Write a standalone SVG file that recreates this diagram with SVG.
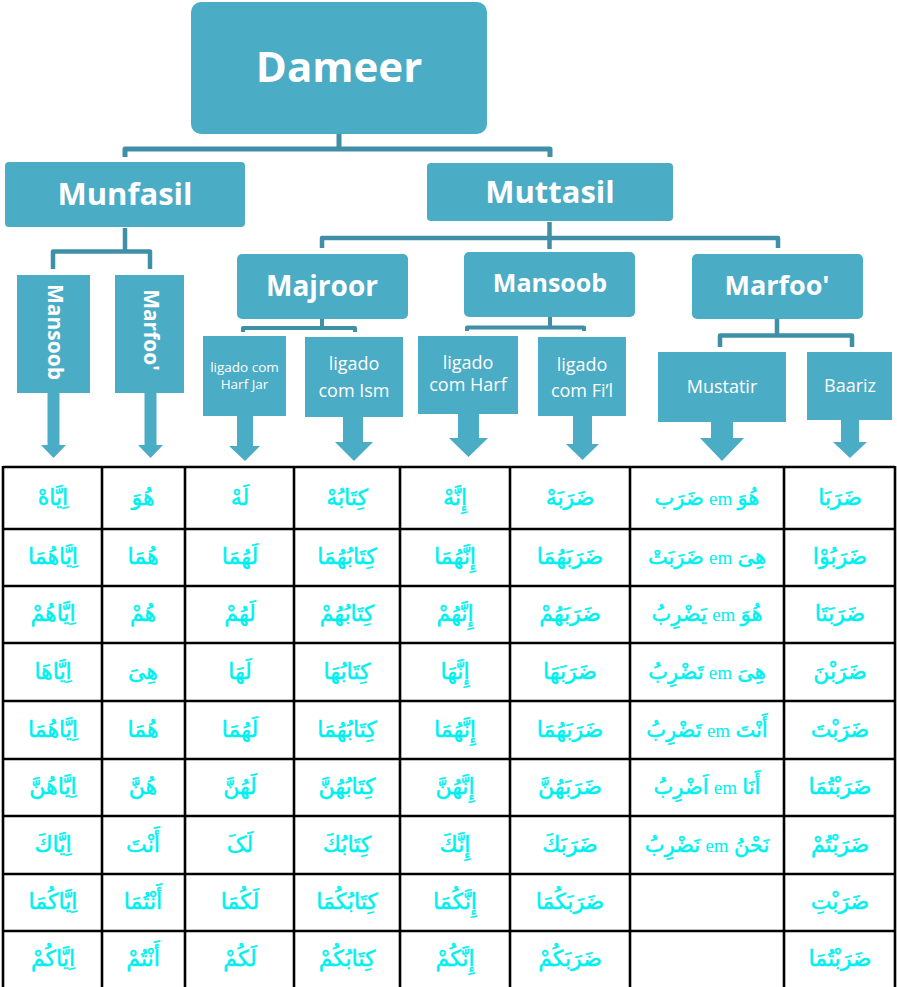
<svg xmlns="http://www.w3.org/2000/svg" width="897" height="987" viewBox="0 0 897 987">
<style>
.box{fill:#4BACC6}
.con{fill:none;stroke:#3F90A6;stroke-linejoin:round}
.h{font-family:"Open Sans","Noto Sans",sans-serif;font-weight:bold;fill:#fff;text-anchor:middle}
.s{font-family:"Open Sans","Noto Sans",sans-serif;fill:#fff;text-anchor:middle}
.grid{stroke:#000;stroke-width:2.6;fill:none}
.ar{font-family:"Liberation Serif","DejaVu Sans",serif;font-size:22px;fill:#00F0F0;stroke:#00F0F0;stroke-width:0.5;text-anchor:middle}
.mu{font-size:21px}
.em{font-size:19px;stroke-width:0}
</style>
<rect width="897" height="987" fill="#fff"/>
<g id="connectors">
<path class="con" stroke-width="5" d="M339,134 V149 M125,157 V149 H550 V157"/>
<path class="con" stroke-width="4.5" d="M549.5,222 V249 M322,248 V238 H778 V248"/>
<path class="con" stroke-width="4.5" d="M125,228 V251.5 M53,269 V251.5 H150 V269"/>
<path class="con" stroke-width="4" d="M322,319 V328 M243,332 V328 H355 V332"/>
<path class="con" stroke-width="4" d="M550,317 V327.5 M467,331 V327.5 H584 V331"/>
<path class="con" stroke-width="4.5" d="M777,319 V335.5 M720,347 V335.5 H852 V347"/>
</g>
<g id="dameer"><rect class="box" x="191" y="2" width="296" height="132" rx="10"/><text class="h" x="339" y="82" font-size="42">Dameer</text></g>
<g id="munfasil"><rect class="box" x="5" y="162" width="240" height="65" rx="4"/><text class="h" x="125" y="205" font-size="31">Munfasil</text></g>
<g id="muttasil"><rect class="box" x="427" y="163" width="246" height="58" rx="4"/><text class="h" x="550" y="203" font-size="31">Muttasil</text></g>
<g id="munfasil-mansoob"><rect class="box" x="17" y="275" width="73" height="118"/><polygon class="box" points="47.5,392 59.5,392 59.5,445 66,445 53.5,458 41,445 47.5,445"/><text class="h" font-size="21" transform="translate(55,332) rotate(90)" y="7">Mansoob</text></g>
<g id="munfasil-marfoo"><rect class="box" x="115" y="275" width="69" height="118"/><polygon class="box" points="144.5,392 156.5,392 156.5,445 163,445 150.5,458 138,445 144.5,445"/><text class="h" font-size="21" transform="translate(151,330) rotate(90)" y="7">Marfoo'</text></g>
<g id="majroor"><rect class="box" x="237" y="254" width="171" height="65" rx="5"/><text class="h" x="322" y="296" font-size="28">Majroor</text></g>
<g id="mansoob"><rect class="box" x="464" y="252" width="171" height="65" rx="5"/><text class="h" x="550" y="292" font-size="25">Mansoob</text></g>
<g id="marfoo"><rect class="box" x="692" y="254" width="171" height="65" rx="5"/><text class="h" x="777" y="295" font-size="27">Marfoo'</text></g>
<g id="harf-jar"><rect class="box" x="203" y="336" width="83" height="80"/><polygon class="box" points="237,415 253,415 253,446 260,446 245,461 229,446 237,446"/><text class="s" font-size="13.5" x="244.5" y="372">ligado com</text><text class="s" font-size="13.5" x="244.5" y="389">Harf Jar</text></g>
<g id="ism"><rect class="box" x="305" y="337" width="98" height="80"/><polygon class="box" points="343,416 363,416 363,442 373,442 354,461 335,442 343,442"/><text class="s" font-size="18" x="354" y="370">ligado</text><text class="s" font-size="18" x="354" y="397">com Ism</text></g>
<g id="harf"><rect class="box" x="418" y="336" width="100" height="78"/><polygon class="box" points="458,413 479,413 479,438 488,438 468.5,457 449,438 458,438"/><text class="s" font-size="18" x="468" y="369">ligado</text><text class="s" font-size="18" x="468" y="391">com Harf</text></g>
<g id="fil"><rect class="box" x="538" y="337" width="88" height="79"/><polygon class="box" points="573,415 592,415 592,444 599,444 582.5,460 566,444 573,444"/><text class="s" font-size="18" x="582" y="371">ligado</text><text class="s" font-size="18" x="582" y="397">com Fi’l</text></g>
<g id="mustatir"><rect class="box" x="658" y="352" width="128" height="70"/><polygon class="box" points="711,421 733,421 733,438 744,438 722,461 700,438 711,438"/><text class="s" font-size="18" x="722" y="393">Mustatir</text></g>
<g id="baariz"><rect class="box" x="807" y="352" width="85" height="68"/><polygon class="box" points="841,419 859,419 859,442 867,442 850,458 833,442 841,442"/><text class="s" font-size="18" x="850" y="392">Baariz</text></g>
<g id="table">
<path class="grid" d="M3,467 H895 M3,529 H895 M3,586 H895 M3,643 H895 M3,701 H895 M3,759 H895 M3,816 H895 M3,874 H895 M3,931 H895 M3,466 V990 M102,466 V990 M185,466 V990 M294,466 V990 M400,466 V990 M510,466 V990 M630,466 V990 M784,466 V990 M895,466 V990"/>
<g id="col-munfasil-mansoob">
<text class="ar" x="53" y="505">اِيَّاهْ</text>
<text class="ar" x="53" y="564">اِيَّاهُمَا</text>
<text class="ar" x="53" y="621">اِيَّاهُمْ</text>
<text class="ar" x="53" y="679">اِيَّاهَا</text>
<text class="ar" x="53" y="737">اِيَّاهُمَا</text>
<text class="ar" x="53" y="794">اِيَّاهُنَّ</text>
<text class="ar" x="53" y="852">اِيَّاكَ</text>
<text class="ar" x="53" y="909">اِيَّاكُمَا</text>
<text class="ar" x="53" y="966">اِيَّاكُمْ</text>
</g>
<g id="col-munfasil-marfoo">
<text class="ar" x="143" y="505">هُوَ</text>
<text class="ar" x="143" y="564">هُمَا</text>
<text class="ar" x="143" y="621">هُمْ</text>
<text class="ar" x="143" y="679">هِىَ</text>
<text class="ar" x="143" y="737">هُمَا</text>
<text class="ar" x="143" y="794">هُنَّ</text>
<text class="ar" x="143" y="852">أَنْتَ</text>
<text class="ar" x="143" y="909">أَنْتُمَا</text>
<text class="ar" x="143" y="966">أَنْتُمْ</text>
</g>
<g id="col-harf-jar">
<text class="ar" x="240" y="505">لَهْ</text>
<text class="ar" x="240" y="564">لَهُمَا</text>
<text class="ar" x="240" y="621">لَهُمْ</text>
<text class="ar" x="240" y="679">لَهَا</text>
<text class="ar" x="240" y="737">لَهُمَا</text>
<text class="ar" x="240" y="794">لَهُنَّ</text>
<text class="ar" x="240" y="852">لَکَ</text>
<text class="ar" x="240" y="909">لَکُمَا</text>
<text class="ar" x="240" y="966">لَکُمْ</text>
</g>
<g id="col-ism">
<text class="ar" x="347" y="505">كِتَابُهْ</text>
<text class="ar" x="347" y="564">كِتَابُهُمَا</text>
<text class="ar" x="347" y="621">كِتَابُهُمْ</text>
<text class="ar" x="347" y="679">كِتَابُهَا</text>
<text class="ar" x="347" y="737">كِتَابُهُمَا</text>
<text class="ar" x="347" y="794">كِتَابُهُنَّ</text>
<text class="ar" x="347" y="852">كِتَابُكَ</text>
<text class="ar" x="347" y="909">كِتَابُكُمَا</text>
<text class="ar" x="347" y="966">كِتَابُكُمْ</text>
</g>
<g id="col-harf">
<text class="ar" x="455" y="505">إِنَّهْ</text>
<text class="ar" x="455" y="564">إِنَّهُمَا</text>
<text class="ar" x="455" y="621">إِنَّهُمْ</text>
<text class="ar" x="455" y="679">إِنَّهَا</text>
<text class="ar" x="455" y="737">إِنَّهُمَا</text>
<text class="ar" x="455" y="794">إِنَّهُنَّ</text>
<text class="ar" x="455" y="852">إِنَّكَ</text>
<text class="ar" x="455" y="909">إِنَّكُمَا</text>
<text class="ar" x="455" y="966">إِنَّكُمْ</text>
</g>
<g id="col-fil">
<text class="ar" x="570" y="505">ضَرَبَهْ</text>
<text class="ar" x="570" y="564">ضَرَبَهُمَا</text>
<text class="ar" x="570" y="621">ضَرَبَهُمْ</text>
<text class="ar" x="570" y="679">ضَرَبَهَا</text>
<text class="ar" x="570" y="737">ضَرَبَهُمَا</text>
<text class="ar" x="570" y="794">ضَرَبَهُنَّ</text>
<text class="ar" x="570" y="852">ضَرَبَكَ</text>
<text class="ar" x="570" y="909">ضَرَبَكُمَا</text>
<text class="ar" x="570" y="966">ضَرَبَكُمْ</text>
</g>
<g id="col-mustatir">
<text class="ar mu" x="707" y="505">ضَرَب <tspan class="em">em</tspan> هُوَ</text>
<text class="ar mu" x="707" y="564">ضَرَبَتْ <tspan class="em">em</tspan> هِىَ</text>
<text class="ar mu" x="707" y="621">يَضْرِبُ <tspan class="em">em</tspan> هُوَ</text>
<text class="ar mu" x="707" y="679">تَضْرِبُ <tspan class="em">em</tspan> هِىَ</text>
<text class="ar mu" x="707" y="737">تَضْرِبُ <tspan class="em">em</tspan> أَنْتَ</text>
<text class="ar mu" x="707" y="794">اَضْرِبُ <tspan class="em">em</tspan> أَنَا</text>
<text class="ar mu" x="707" y="852">نَضْرِبُ <tspan class="em">em</tspan> نَحْنُ</text>
</g>
<g id="col-baariz">
<text class="ar" x="840" y="505">ضَرَبَا</text>
<text class="ar" x="840" y="564">ضَرَبُوْا</text>
<text class="ar" x="840" y="621">ضَرَبَتَا</text>
<text class="ar" x="840" y="679">ضَرَبْنَ</text>
<text class="ar" x="840" y="737">ضَرَبْتَ</text>
<text class="ar" x="840" y="794">ضَرَبْتُمَا</text>
<text class="ar" x="840" y="852">ضَرَبْتُمْ</text>
<text class="ar" x="840" y="909">ضَرَبْتِ</text>
<text class="ar" x="840" y="966">ضَرَبْتُمَا</text>
</g>
</g>
</svg>
